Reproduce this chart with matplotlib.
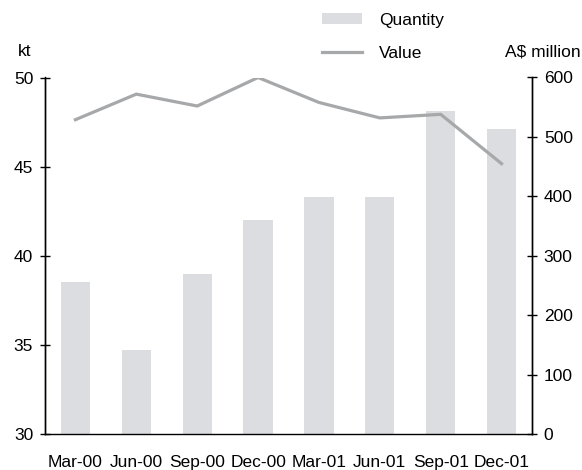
import matplotlib.pyplot as plt
from matplotlib.patches import Patch
from matplotlib.lines import Line2D

plt.rcParams['font.family'] = ['Liberation Sans', 'DejaVu Sans']
plt.rcParams['font.size'] = 12.5

quarters = ["Mar-00", "Jun-00", "Sep-00", "Dec-00", "Mar-01", "Jun-01", "Sep-01", "Dec-01"]
quantity_kt = [38.5, 34.7, 39.0, 42.0, 43.3, 43.3, 48.1, 47.1]
value_musd = [529, 572, 552, 600, 558, 532, 538, 455]

BAR_COLOR = "#dcdde0"
LINE_COLOR = "#a7a8aa"

fig = plt.figure(figsize=(5.82, 4.70), dpi=100)
ax = fig.add_axes([45 / 582, 1 - 434 / 470, 487 / 582, 356.5 / 470])
ax2 = ax.twinx()

x = range(len(quarters))
ax.bar(x, [q - 30 for q in quantity_kt], bottom=30, width=0.48, color=BAR_COLOR, zorder=1)
ax2.plot(x, value_musd, color=LINE_COLOR, lw=2.3, solid_joinstyle='miter', zorder=2)

ax.set_xlim(-0.5, len(quarters) - 0.5)
ax.set_ylim(30, 50)
ax.set_yticks([30, 35, 40, 45, 50])
ax2.set_ylim(0, 600)
ax2.set_yticks([0, 100, 200, 300, 400, 500, 600])
ax.set_xticks(list(x))
ax.set_xticklabels(quarters)

for a in (ax, ax2):
    a.spines['top'].set_visible(False)
    for s in a.spines.values():
        s.set_linewidth(1.0)
        s.set_color('black')
ax.tick_params(axis='x', length=0, pad=15)
ax.tick_params(axis='y', direction='inout', length=7, width=1.0, pad=5)
ax2.tick_params(axis='y', direction='inout', length=7, width=1.0, pad=5)
ax2.spines['bottom'].set_visible(False)

fig.text(18 / 582, 1 - 52 / 470, "kt", ha='left', va='center')
fig.text(581 / 582, 1 - 52 / 470, "A$ million", ha='right', va='center')

handles = [Patch(facecolor=BAR_COLOR, edgecolor='none'),
           Line2D([], [], color=LINE_COLOR, lw=2.3)]
fig.legend(handles, ["Quantity", "Value"], loc='upper left',
           bbox_to_anchor=(322 / 582, 1 - 13 / 470), frameon=False, borderpad=0,
           borderaxespad=0, handlelength=2.3, handleheight=0.6,
           labelspacing=1.05, handletextpad=1.0)

fig.savefig("out.png", dpi=100)
